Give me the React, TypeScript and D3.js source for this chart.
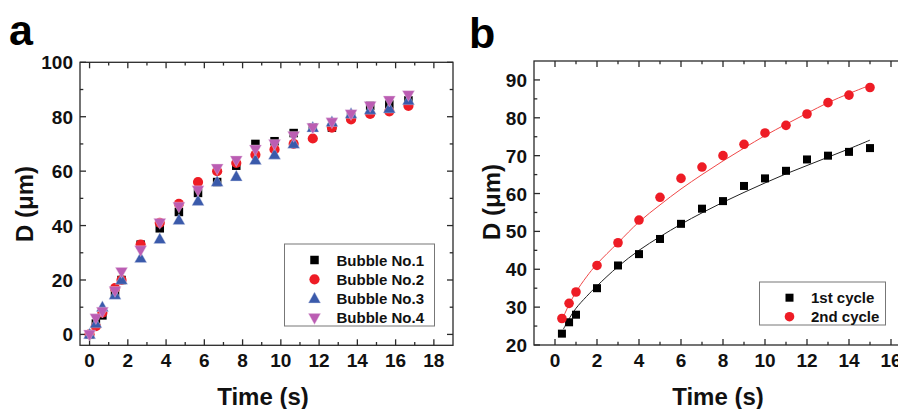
import React from "react";
import * as d3 from "d3";

// ---------- Panel a data ----------
const timesA = [0, 0.33, 0.67, 1.33, 1.67, 2.67, 3.67, 4.67, 5.67, 6.67, 7.67, 8.67, 9.67, 10.67, 11.67, 12.67, 13.67, 14.67, 15.67, 16.67];
const bubble1 = [0, 4, 7, 15, 20, 33, 39, 45, 52, 56, 62, 70, 71, 74, 76, 76, 80, 84, 84.5, 86];
const bubble2 = [0, 3, 8, 17, 20, 33, 41, 48, 56, 60, 63, 66, 68, 70, 72, 76, 79, 81, 82, 84];
const bubble3 = [0, 4, 10, 14.5, 20, 28, 35, 42, 49, 56, 58, 64, 66, 70, 76, 78, 81, 82.5, 83, 86];
const bubble4 = [0, 6, 8.4, 16, 23, 31, 41, 47, 53, 61, 64, 68, 70, 73, 76, 78, 81, 84, 86, 88];
const legendA = ["Bubble No.1", "Bubble No.2", "Bubble No.3", "Bubble No.4"];
const xTicksA = [0, 2, 4, 6, 8, 10, 12, 14, 16, 18];
const yTicksA = [0, 20, 40, 60, 80, 100];

// ---------- Panel b data ----------
const timesB = [0.33, 0.67, 1, 2, 3, 4, 5, 6, 7, 8, 9, 10, 11, 12, 13, 14, 15];
const cycle1 = [23, 26, 28, 35, 41, 44, 48, 52, 56, 58, 62, 64, 66, 69, 70, 71, 72];
const cycle2 = [27, 31, 34, 41, 47, 53, 59, 64, 67, 70, 73, 76, 78, 81, 84, 86, 88];
const fit1T = [0.4, 0.7, 1, 1.5, 2, 3, 4, 5, 6, 7, 8, 9, 10, 11, 12, 13, 14, 15];
const fit1D = [24.2, 27.2, 29.7, 32.8, 35.6, 40.7, 45, 48.6, 51.9, 54.9, 57.7, 60.3, 62.8, 65.2, 67.4, 69.6, 71.8, 74.1];
const fit2T = [0.3, 0.5, 0.7, 1, 1.5, 2, 3, 4, 5, 6, 7, 8, 9, 10, 11, 12, 13, 14, 15];
const fit2D = [26, 28.7, 31, 34, 38, 41.4, 47, 52.5, 57, 61.2, 65, 68.6, 72, 75.3, 78.3, 81.2, 84, 86.4, 88.6];
const legendB = ["1st cycle", "2nd cycle"];
const xTicksB = [0, 2, 4, 6, 8, 10, 12, 14, 16];
const yTicksB = [20, 30, 40, 50, 60, 70, 80, 90];

const FONT = "'Liberation Sans', Arial, Helvetica, sans-serif";
const AXIS = "#2a2a2a";

type Shape = "square" | "circle" | "up" | "down";

function Marker({ shape, x, y, color, s }: { shape: Shape; x: number; y: number; color: string; s: number }) {
  if (shape === "square") return <rect x={x - s / 2} y={y - s / 2} width={s} height={s} fill={color} />;
  if (shape === "circle") return <circle cx={x} cy={y} r={s / 2 + 0.6} fill={color} />;
  const w = s * 1.35;
  const h = s * 1.2;
  if (shape === "up")
    return <path d={`M${x},${y - h * 0.6}L${x + w / 2},${y + h * 0.4}L${x - w / 2},${y + h * 0.4}Z`} fill={color} stroke="#c8cde6" strokeWidth={0.4} />;
  return <path d={`M${x},${y + h * 0.6}L${x + w / 2},${y - h * 0.4}L${x - w / 2},${y - h * 0.4}Z`} fill={color} stroke="#e6c8e2" strokeWidth={0.4} />;
}

function Frame({
  x, y, xTicks, yTicks, xMinor, yMinor, clipRight,
}: {
  x: d3.ScaleLinear<number, number>; y: d3.ScaleLinear<number, number>;
  xTicks: number[]; yTicks: number[]; xMinor: number[]; yMinor: number[]; clipRight?: boolean;
}) {
  const [x0, x1] = x.range();
  const [y0, y1] = y.range(); // y0 bottom, y1 top
  const M = 6, m = 3.3;
  const els: React.ReactNode[] = [];
  xTicks.forEach((t, i) => {
    const px = x(t);
    els.push(<line key={"xb" + i} x1={px} x2={px} y1={y0} y2={y0 - M} />);
    els.push(<line key={"xt" + i} x1={px} x2={px} y1={y1} y2={y1 + M} />);
  });
  xMinor.forEach((t, i) => {
    const px = x(t);
    els.push(<line key={"xbm" + i} x1={px} x2={px} y1={y0} y2={y0 - m} />);
    els.push(<line key={"xtm" + i} x1={px} x2={px} y1={y1} y2={y1 + m} />);
  });
  yTicks.forEach((t, i) => {
    const py = y(t);
    els.push(<line key={"yl" + i} x1={x0} x2={x0 + M} y1={py} y2={py} />);
    els.push(<line key={"yr" + i} x1={x1} x2={x1 - M} y1={py} y2={py} />);
  });
  yMinor.forEach((t, i) => {
    const py = y(t);
    els.push(<line key={"ylm" + i} x1={x0} x2={x0 + m} y1={py} y2={py} />);
    els.push(<line key={"yrm" + i} x1={x1} x2={x1 - m} y1={py} y2={py} />);
  });
  return (
    <g stroke={AXIS} strokeWidth={1.3} fill="none">
      <rect x={x0} y={y1} width={x1 - x0} height={y0 - y1} />
      {els}
    </g>
  );
}

function TickLabels({ x, y, xTicks, yTicks }: { x: d3.ScaleLinear<number, number>; y: d3.ScaleLinear<number, number>; xTicks: number[]; yTicks: number[] }) {
  const [x0] = x.range();
  const [y0] = y.range();
  return (
    <g fontFamily={FONT} fontWeight="bold" fontSize={19} fill="#111">
      {xTicks.map((t) => (
        <text key={"x" + t} x={x(t)} y={y0 + 22} textAnchor="middle">{t}</text>
      ))}
      {yTicks.map((t) => (
        <text key={"y" + t} x={x0 - 7} y={y(t) + 7} textAnchor="end">{t}</text>
      ))}
    </g>
  );
}

export default function App() {
  // Panel a scales
  const xa = d3.scaleLinear().domain([-0.5, 19]).range([80, 453]);
  const ya = d3.scaleLinear().domain([-4, 100]).range([345.3, 62.3]);
  // Panel b scales
  const xb = d3.scaleLinear().domain([-1, 17]).range([534, 912]);
  const yb = d3.scaleLinear().domain([20, 95]).range([345, 61]);

  const seriesA: { vals: number[]; shape: Shape; color: string; s: number }[] = [
    { vals: bubble1, shape: "square", color: "#000000", s: 8.5 },
    { vals: bubble2, shape: "circle", color: "#ee1c25", s: 9 },
    { vals: bubble3, shape: "up", color: "#3a5aab", s: 9 },
    { vals: bubble4, shape: "down", color: "#bb5db3", s: 9 },
  ];

  const lineB = (T: number[], D: number[]) =>
    d3.line<number>().x((_, i) => xb(T[i])).y((d) => yb(d)).curve(d3.curveCatmullRom.alpha(0.5))(D) || "";

  const oddA = d3.range(1, 19, 2);
  const yMinA = [10, 30, 50, 70, 90];
  const oddB = d3.range(-1, 17, 2).filter((v) => v > -1);
  const yMinB = [25, 35, 45, 55, 65, 75, 85, 95].filter((v) => v < 95);

  return (
    <svg width={898} height={409} style={{ position: "absolute", left: 0, top: 0, background: "#fff" }}>
      {/* Panel labels */}
      <text x={9} y={45} fontFamily={FONT} fontWeight="bold" fontSize={43} fill="#000">a</text>
      <text x={469} y={48} fontFamily={FONT} fontWeight="bold" fontSize={43} fill="#000">b</text>

      {/* ---------- Panel a ---------- */}
      <Frame x={xa} y={ya} xTicks={xTicksA} yTicks={yTicksA} xMinor={oddA} yMinor={yMinA} />
      <TickLabels x={xa} y={ya} xTicks={xTicksA} yTicks={yTicksA} />
      {seriesA.map((s, si) => (
        <g key={si}>
          {s.vals.map((v, i) => (
            <Marker key={i} shape={s.shape} x={xa(timesA[i])} y={ya(v)} color={s.color} s={s.s} />
          ))}
        </g>
      ))}
      <text x={263} y={405} textAnchor="middle" fontFamily={FONT} fontWeight="bold" fontSize={24} fill="#111">Time (s)</text>
      <text transform="translate(33,204) rotate(-90)" textAnchor="middle" fontFamily={FONT} fontWeight="bold" fontSize={24} fill="#111">D (μm)</text>
      {/* legend a */}
      <rect x={284.5} y={244} width={150} height={82} fill="#fff" stroke="#777" strokeWidth={1} />
      {seriesA.map((s, i) => (
        <g key={"la" + i}>
          <Marker shape={s.shape} x={314.5} y={260 + i * 19.3} color={s.color} s={s.s} />
          <text x={336.5} y={265.5 + i * 19.3} fontFamily={FONT} fontWeight="bold" fontSize={15} fill="#111">{legendA[i]}</text>
        </g>
      ))}

      {/* ---------- Panel b ---------- */}
      <path d={lineB(fit1T, fit1D)} fill="none" stroke="#222" strokeWidth={1} />
      <path d={lineB(fit2T, fit2D)} fill="none" stroke="#f04848" strokeWidth={1} />
      {cycle1.map((v, i) => (
        <Marker key={"c1" + i} shape="square" x={xb(timesB[i])} y={yb(v)} color="#000" s={8} />
      ))}
      {cycle2.map((v, i) => (
        <Marker key={"c2" + i} shape="circle" x={xb(timesB[i])} y={yb(v)} color="#ee1c25" s={8.4} />
      ))}
      <Frame x={xb} y={yb} xTicks={xTicksB} yTicks={yTicksB} xMinor={oddB} yMinor={yMinB} />
      <TickLabels x={xb} y={yb} xTicks={xTicksB} yTicks={yTicksB} />
      <text x={718} y={405} textAnchor="middle" fontFamily={FONT} fontWeight="bold" fontSize={24} fill="#111">Time (s)</text>
      <text transform="translate(500,202) rotate(-90)" textAnchor="middle" fontFamily={FONT} fontWeight="bold" fontSize={24} fill="#111">D (μm)</text>
      {/* legend b */}
      <rect x={759.5} y={282} width={126} height={43} fill="#fff" stroke="#777" strokeWidth={1} />
      <Marker shape="square" x={789.5} y={297.7} color="#000" s={8} />
      <text x={811} y={303.2} fontFamily={FONT} fontWeight="bold" fontSize={15} fill="#111">{legendB[0]}</text>
      <Marker shape="circle" x={789.5} y={316.7} color="#ee1c25" s={8.4} />
      <text x={811} y={322.2} fontFamily={FONT} fontWeight="bold" fontSize={15} fill="#111">{legendB[1]}</text>
    </svg>
  );
}
